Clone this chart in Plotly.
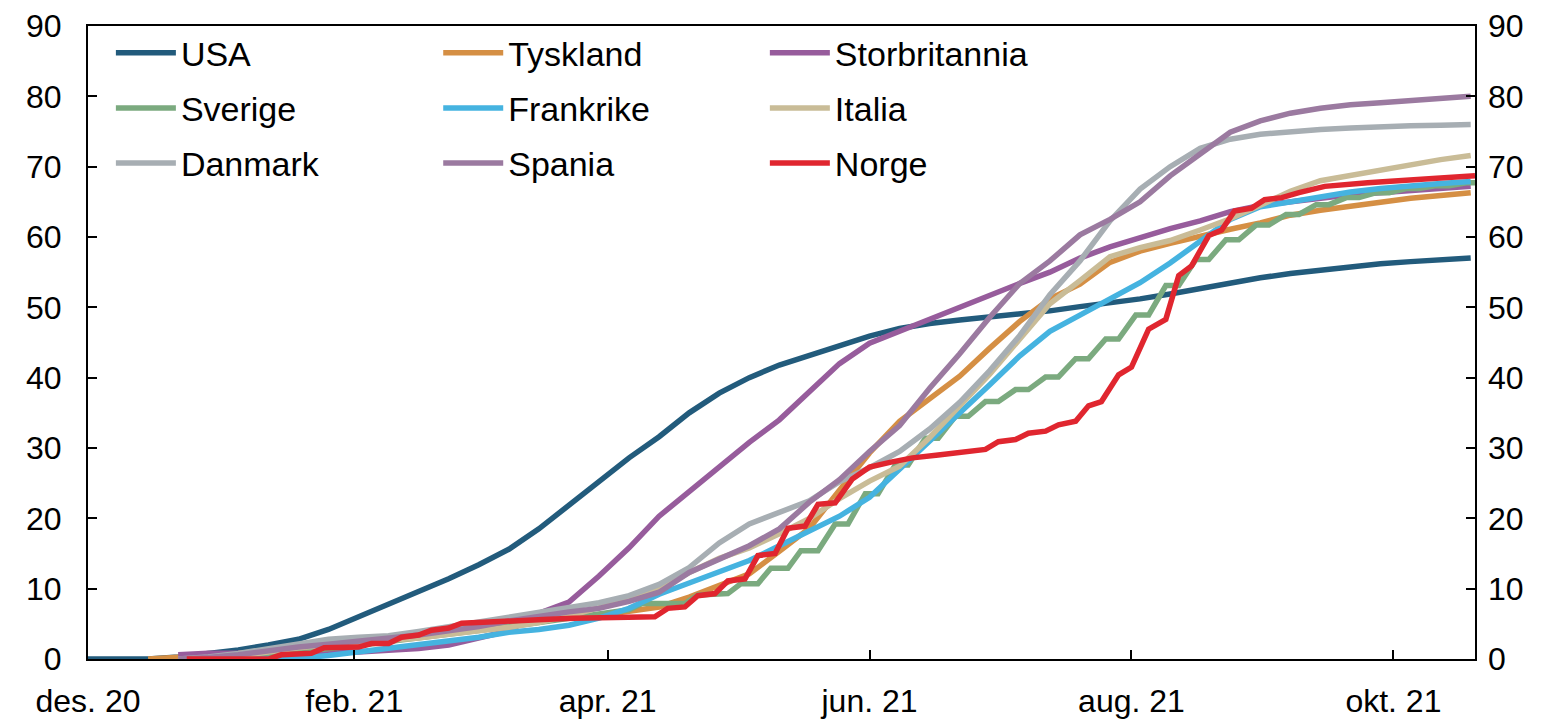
import pandas as pd
import plotly.graph_objects as go

start = pd.Timestamp("2020-12-01")

# weekly observation days (days since 1 Dec 2020)
week_days = list(range(0, 323, 7))

usa = [0, 0, 0, 0.3, 0.8, 1.3, 2.0, 2.8, 4.2, 6.0,
       7.7, 9.6, 11.4, 13.4, 15.6, 18.5, 21.8, 25.3, 28.6, 31.6,
       35.0, 37.8, 40.0, 41.8, 43.2, 44.6, 45.9, 47.0, 47.7, 48.2,
       48.6, 49.0, 49.5, 50.1, 50.6, 51.2, 51.9, 52.7, 53.5, 54.2,
       54.8, 55.3, 55.8, 56.2, 56.5, 56.8, 57.0]
tyskland = [None, None, 0, 0.2, 0.5, 0.8, 1.3, 1.8, 2.2, 2.6,
            3.0, 3.4, 3.9, 4.4, 5.0, 5.5, 5.9, 6.2, 6.8, 7.4,
            8.8, 10.4, 12.1, 15.3, 18.6, 24.0, 29.3, 33.8, 37.1, 40.2,
            44.2, 48.0, 51.2, 53.3, 56.4, 58.0, 59.1, 60.2, 61.1, 62.0,
            63.1, 63.8, 64.4, 65.0, 65.5, 65.9, 66.3]
storbritannia = [None, None, None, 0.6, 0.8, 0.8, 0.9, 0.9, 1.0, 1.0,
                 1.2, 1.5, 2.0, 2.9, 4.0, 6.5, 8.1, 11.8, 15.8, 20.3,
                 23.8, 27.3, 30.8, 34.0, 37.9, 42.0, 44.9, 46.6, 48.3, 50.2,
                 51.7, 53.4, 55.0, 57.0, 58.6, 60.0, 61.2, 62.3, 63.6, 64.5,
                 65.0, 65.6, 66.0, 66.3, 66.6, 66.9, 67.2]
frankrike = [None, None, None, None, 0, 0, 0, 0.1, 0.5, 1.0,
             1.5, 2.1, 2.6, 3.1, 3.8, 4.2, 4.8, 5.8, 7.2, 9.2,
             10.8, 12.3, 14.0, 16.1, 18.3, 20.3, 23.0, 27.0, 30.8, 35.0,
             39.0, 43.1, 46.6, 48.9, 51.1, 53.5, 56.3, 59.4, 62.5, 64.3,
             65.0, 65.8, 66.4, 66.9, 67.3, 67.6, 67.9]
italia = [None, None, None, 0, 0.1, 0.4, 1.0, 1.6, 2.0, 2.3,
          2.6, 3.0, 3.5, 4.0, 4.5, 5.2, 6.1, 7.3, 8.5, 10.0,
          12.3, 14.3, 15.8, 17.8, 20.0, 22.8, 25.3, 27.4, 31.5, 36.0,
          40.5, 45.5, 50.5, 53.8, 57.2, 58.5, 59.5, 61.0, 62.6, 64.5,
          66.5, 68.0, 68.8, 69.5, 70.3, 71.0, 71.6]
danmark = [None, None, None, 0, 0.3, 0.8, 1.5, 2.2, 2.8, 3.1,
           3.3, 3.9, 4.6, 5.3, 6.0, 6.7, 7.4, 8.0, 9.0, 10.6,
           13.0, 16.5, 19.2, 20.8, 22.5, 25.2, 27.2, 29.5, 32.7, 36.5,
           41.0, 46.0, 51.8, 56.6, 62.3, 66.8, 70.0, 72.6, 73.9, 74.6,
           75.0, 75.3, 75.5, 75.7, 75.8, 75.9, 76.0]
spania = [None, None, None, 0, 0.2, 0.6, 1.2, 1.7, 2.1, 2.5,
          2.9, 3.4, 4.0, 4.6, 5.4, 6.1, 6.7, 7.2, 8.2, 9.5,
          12.3, 14.2, 16.1, 18.5, 22.3, 25.5, 29.5, 33.2, 38.5, 43.4,
          48.6, 53.4, 56.6, 60.3, 62.5, 65.0, 68.7, 71.8, 74.9, 76.5,
          77.6, 78.3, 78.8, 79.1, 79.4, 79.7, 80.0]

# Sweden and Norway report weekly, giving a stair-step pattern
sverige_days = [21, 28, 35, 42, 49, 56, 63, 70, 77, 84, 91, 98, 105, 112, 119, 126,
                129, 139, 142, 149, 152, 156, 159, 163, 166, 170, 174, 177, 181, 184,
                188, 191, 195, 198, 202, 205, 209, 212, 216, 219, 223, 226, 230, 233,
                237, 240, 244, 247, 251, 254, 258, 261, 265, 268, 272, 275, 279, 282,
                286, 289, 293, 296, 300, 303, 307, 310, 314, 317, 321, 323]
sverige = [0, 0.1, 0.3, 0.6, 1.0, 1.4, 1.9, 2.5, 3.0, 3.5, 4.0, 4.6, 5.2, 5.8, 6.3, 7.0,
           7.9, 7.9, 9.1, 9.3, 10.7, 10.7, 12.9, 12.9, 15.4, 15.4, 19.2, 19.2, 23.5, 23.5,
           27.6, 27.6, 31.4, 31.4, 34.5, 34.5, 36.6, 36.6, 38.3, 38.3, 40.1, 40.1, 42.7, 42.7,
           45.5, 45.5, 48.9, 48.9, 53.1, 53.1, 56.8, 56.8, 59.6, 59.6, 61.7, 61.7, 63.2, 63.2,
           64.6, 64.6, 65.6, 65.6, 66.3, 66.3, 66.9, 66.9, 67.3, 67.3, 67.7, 67.7]

norge_days = [23, 42, 45, 52, 55, 63, 66, 70, 73, 77, 80, 84, 87, 98, 106, 113, 120, 132,
              135, 139, 142, 146, 149, 153, 156, 160, 163, 167, 170, 174, 178, 182, 187,
              192, 198, 205, 209, 212, 216, 219, 223, 226, 230, 233, 236, 240, 243, 247,
              251, 254, 257, 261, 264, 267, 271, 274, 278, 282, 288, 298, 309, 317, 323]
norge = [0, 0, 0.6, 0.8, 1.6, 1.7, 2.2, 2.2, 3.1, 3.4, 4.1, 4.4, 5.1, 5.3, 5.6, 5.8, 5.9, 6.0,
         7.2, 7.4, 9.0, 9.3, 11.1, 11.4, 14.7, 15.0, 18.6, 18.9, 22.0, 22.2, 25.6, 27.3, 28.0,
         28.6, 29.0, 29.5, 29.8, 30.9, 31.2, 32.1, 32.4, 33.3, 33.8, 36.0, 36.6, 40.4, 41.5, 46.9,
         48.3, 54.5, 55.9, 60.2, 61.0, 63.7, 64.1, 65.3, 65.6, 66.3, 67.2, 67.7, 68.1, 68.5, 68.7]

tick_dates = ["2020-12-01", "2021-02-01", "2021-04-01", "2021-06-01", "2021-08-01", "2021-10-01"]
tick_labels = ["des. 20", "feb. 21", "apr. 21", "jun. 21", "aug. 21", "okt. 21"]


def to_dates(days):
    return [start + pd.Timedelta(days=d) for d in days]


week_dates = to_dates(week_days)

series = [
    ("USA", week_dates, usa, "#225b7c", "legend"),
    ("Tyskland", week_dates, tyskland, "#d58f44", "legend2"),
    ("Storbritannia", week_dates, storbritannia, "#975c9c", "legend3"),
    ("Sverige", to_dates(sverige_days), sverige, "#7baa7f", "legend"),
    ("Frankrike", week_dates, frankrike, "#45b3e0", "legend2"),
    ("Italia", week_dates, italia, "#c9bc97", "legend3"),
    ("Danmark", week_dates, danmark, "#a7aeb3", "legend"),
    ("Spania", week_dates, spania, "#9b7aa0", "legend2"),
    ("Norge", to_dates(norge_days), norge, "#e0262f", "legend3"),
]

fig = go.Figure()
for name, x, y, color, leg in series:
    fig.add_trace(go.Scatter(x=x, y=y, name=name, mode="lines", legend=leg,
                             legendgroup=name,
                             line=dict(color=color, width=5.5)))

# invisible trace so the right-hand axis gets drawn
fig.add_trace(go.Scatter(x=[week_dates[0]], y=[0], yaxis="y2", mode="markers",
                         marker=dict(opacity=0), showlegend=False, hoverinfo="skip"))

font = dict(family="Liberation Sans, Arial, sans-serif", size=34, color="black")
tick_font = dict(family="Liberation Sans, Arial, sans-serif", size=32, color="black")

legend_style = dict(
    orientation="v", yanchor="top", y=1.003, xanchor="left",
    bgcolor="rgba(0,0,0,0)", font=font, itemwidth=60,
    traceorder="grouped", tracegroupgap=8,
)

# page body has an 8px margin, so the plot margins are offset to compensate
fig.update_layout(
    width=1557, height=725,
    margin=dict(l=80, r=90, t=18, b=74),
    plot_bgcolor="white", paper_bgcolor="white",
    font=font,
    showlegend=True,
    legend=dict(x=0.0165, **legend_style),
    legend2=dict(x=0.2525, **legend_style),
    legend3=dict(x=0.488, **legend_style),
    xaxis=dict(
        type="date", range=["2020-12-01", "2021-10-20"],
        tickvals=tick_dates, ticktext=tick_labels, tickfont=tick_font,
        ticks="inside", ticklen=9, tickwidth=1.5, tickcolor="black",
        showline=True, linecolor="black", linewidth=2, mirror=True,
        showgrid=False, zeroline=False, ticklabelstandoff=13, automargin=False,
    ),
    yaxis=dict(
        range=[0, 90], dtick=10, ticks="inside", ticklen=9, tickwidth=1.5,
        tickcolor="black", showline=True, linecolor="black", linewidth=2,
        mirror=True, showgrid=False, zeroline=False, ticklabelstandoff=18,
        automargin=False, tickfont=tick_font,
    ),
    yaxis2=dict(
        range=[0, 90], dtick=10, overlaying="y", side="right", anchor="x",
        ticks="inside", ticklen=9, tickwidth=1.5, tickcolor="black",
        showline=False, showgrid=False, zeroline=False, ticklabelstandoff=12,
        automargin=False, tickfont=tick_font,
    ),
)

fig.write_html("out.html")
